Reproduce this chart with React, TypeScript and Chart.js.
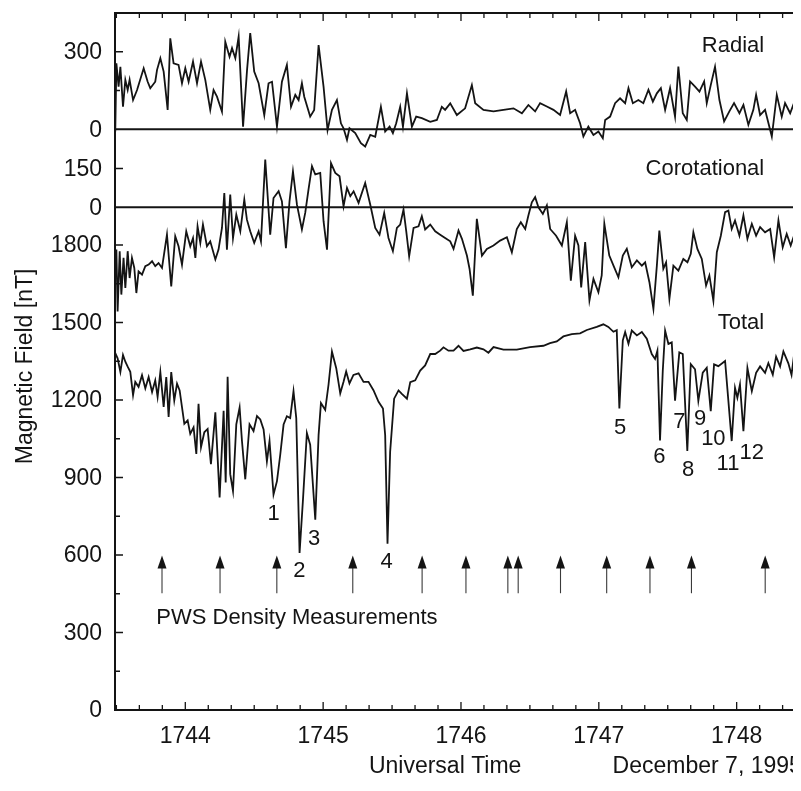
import React, { useEffect, useRef } from 'react';
import { Chart, registerables } from 'chart.js';

Chart.register(...registerables);

const INK = '#141414';
const FONT = '"Liberation Sans", Arial, Helvetica, sans-serif';

// Field components in nT against Universal Time (hhmm with fractional minutes)
const radial: [number, number][] = [
  [1743.492, -9], [1743.5, 255], [1743.516, 165], [1743.529, 242], [1743.548, 87], [1743.565, 191],
  [1743.582, 152], [1743.596, 191], [1743.621, 113], [1743.65, 152], [1743.698, 236], [1743.727, 184],
  [1743.746, 159], [1743.782, 184], [1743.795, 230], [1743.819, 275], [1743.843, 223], [1743.872, 75],
  [1743.891, 352], [1743.915, 255], [1743.951, 249], [1743.976, 178], [1744.0, 236], [1744.024, 184],
  [1744.056, 262], [1744.085, 178], [1744.114, 262], [1744.145, 191], [1744.181, 75], [1744.205, 152],
  [1744.23, 126], [1744.266, 68], [1744.29, 339], [1744.321, 281], [1744.339, 314], [1744.363, 275],
  [1744.387, 358], [1744.419, 10], [1744.448, 230], [1744.471, 372], [1744.5, 223], [1744.532, 178],
  [1744.573, 55], [1744.604, 178], [1744.629, 184], [1744.665, 10], [1744.701, 184], [1744.737, 249],
  [1744.767, 87], [1744.798, 133], [1744.822, 113], [1744.846, 178], [1744.863, 126], [1744.906, 49],
  [1744.935, 75], [1744.967, 326], [1745.003, 165], [1745.032, -3], [1745.064, 75], [1745.1, 113],
  [1745.129, 23], [1745.148, 4], [1745.173, -41], [1745.191, 4], [1745.233, -15], [1745.274, -54],
  [1745.305, -67], [1745.342, -22], [1745.378, -29], [1745.419, 87], [1745.45, -9], [1745.482, 10],
  [1745.506, -15], [1745.53, 23], [1745.559, 87], [1745.579, 10], [1745.608, 139], [1745.644, 10],
  [1745.675, 49], [1745.716, 43], [1745.777, 29], [1745.825, 36], [1745.861, 87], [1745.885, 75],
  [1745.922, 100], [1745.97, 55], [1746.03, 81], [1746.079, 171], [1746.103, 101], [1746.163, 75],
  [1746.236, 69], [1746.308, 75], [1746.381, 81], [1746.442, 62], [1746.489, 94], [1746.538, 69],
  [1746.574, 101], [1746.623, 88], [1746.671, 75], [1746.719, 55], [1746.763, 146], [1746.792, 62],
  [1746.828, 75], [1746.864, 23], [1746.888, -28], [1746.924, 10], [1746.961, -22], [1746.997, -9],
  [1747.029, -35], [1747.046, 36], [1747.082, 49], [1747.118, 101], [1747.154, 120], [1747.191, 101],
  [1747.215, 159], [1747.247, 101], [1747.287, 113], [1747.323, 101], [1747.36, 153], [1747.392, 107],
  [1747.421, 139], [1747.45, 159], [1747.481, 75], [1747.517, 159], [1747.553, 49], [1747.577, 243],
  [1747.609, 62], [1747.638, 36], [1747.662, 185], [1747.698, 165], [1747.73, 146], [1747.764, 185],
  [1747.783, 101], [1747.812, 171], [1747.843, 242], [1747.875, 113], [1747.909, 30], [1747.947, 69],
  [1747.981, 101], [1748.02, 62], [1748.049, 94], [1748.085, 17], [1748.121, 75], [1748.141, 133],
  [1748.17, 55], [1748.206, 75], [1748.255, -28], [1748.291, 133], [1748.327, 49], [1748.351, 101],
  [1748.388, 62], [1748.424, 113], [1748.46, 23], [1748.503, 81],
];

const corotational: [number, number][] = [
  [1743.485, -312], [1743.5, -164], [1743.509, -403], [1743.524, -170], [1743.536, -338], [1743.552, -196],
  [1743.565, -312], [1743.582, -170], [1743.596, -274], [1743.613, -196], [1743.63, -235], [1743.645, -332],
  [1743.661, -248], [1743.686, -261], [1743.71, -228], [1743.734, -222], [1743.759, -209], [1743.782, -228],
  [1743.806, -216], [1743.831, -235], [1743.867, -106], [1743.898, -306], [1743.927, -112], [1743.951, -151],
  [1743.976, -222], [1744.007, -93], [1744.036, -151], [1744.056, -119], [1744.073, -196], [1744.089, -74],
  [1744.109, -138], [1744.128, -67], [1744.157, -151], [1744.181, -132], [1744.218, -202], [1744.241, -164],
  [1744.266, -80], [1744.283, 55], [1744.302, -164], [1744.326, 49], [1744.346, -119], [1744.37, -28],
  [1744.399, -93], [1744.428, 30], [1744.447, -48], [1744.471, -93], [1744.5, -138], [1744.532, -93],
  [1744.549, -132], [1744.58, 185], [1744.616, -106], [1744.64, 36], [1744.677, 62], [1744.701, 23],
  [1744.73, -158], [1744.756, 23], [1744.781, 139], [1744.81, 10], [1744.846, -86], [1744.87, -22],
  [1744.894, 69], [1744.919, 159], [1744.943, 127], [1744.979, 133], [1745.003, -54], [1745.028, -164],
  [1745.057, 171], [1745.088, 133], [1745.119, 120], [1745.148, 4], [1745.173, 75], [1745.197, 43],
  [1745.221, 62], [1745.257, 17], [1745.305, 94], [1745.342, 10], [1745.378, -80], [1745.409, -106],
  [1745.443, -22], [1745.474, -119], [1745.506, -170], [1745.535, -80], [1745.559, -67], [1745.583, -9],
  [1745.603, -93], [1745.624, -190], [1745.656, -80], [1745.692, -74], [1745.716, -35], [1745.74, -86],
  [1745.777, -67], [1745.813, -93], [1745.849, -106], [1745.885, -119], [1745.922, -132], [1745.946, -161],
  [1745.982, -90], [1746.007, -122], [1746.043, -187], [1746.062, -238], [1746.086, -342], [1746.115, -45],
  [1746.152, -187], [1746.188, -161], [1746.236, -148], [1746.284, -129], [1746.333, -116], [1746.369, -174],
  [1746.405, -84], [1746.434, -58], [1746.466, -84], [1746.489, -32], [1746.514, 19], [1746.538, 39],
  [1746.562, 0], [1746.594, -26], [1746.623, 7], [1746.647, -84], [1746.69, -110], [1746.732, -148],
  [1746.768, -58], [1746.797, -284], [1746.828, -110], [1746.852, -148], [1746.872, -310], [1746.901, -135],
  [1746.932, -361], [1746.961, -277], [1746.997, -329], [1747.021, -264], [1747.04, -64], [1747.076, -187],
  [1747.111, -232], [1747.142, -271], [1747.174, -187], [1747.203, -161], [1747.239, -232], [1747.276, -206],
  [1747.312, -226], [1747.336, -213], [1747.367, -290], [1747.396, -393], [1747.421, -226], [1747.439, -90],
  [1747.468, -238], [1747.488, -213], [1747.512, -355], [1747.541, -226], [1747.577, -245], [1747.613, -200],
  [1747.643, -213], [1747.667, -180], [1747.686, -97], [1747.715, -161], [1747.747, -200], [1747.778, -303],
  [1747.802, -264], [1747.831, -361], [1747.856, -174], [1747.885, -110], [1747.916, -19], [1747.94, -13],
  [1747.964, -84], [1747.988, -51], [1748.02, -110], [1748.049, -32], [1748.078, -122], [1748.11, -64],
  [1748.141, -110], [1748.17, -77], [1748.206, -97], [1748.243, -84], [1748.272, -194], [1748.303, -51],
  [1748.334, -155], [1748.363, -103], [1748.392, -148], [1748.424, -97], [1748.46, -110], [1748.503, -90],
];

const total: [number, number][] = [
  [1743.492, 1381], [1743.509, 1361], [1743.529, 1309], [1743.548, 1374], [1743.565, 1348], [1743.582, 1329],
  [1743.601, 1309], [1743.621, 1219], [1743.637, 1270], [1743.661, 1251], [1743.686, 1296], [1743.71, 1245],
  [1743.734, 1289], [1743.759, 1231], [1743.782, 1276], [1743.799, 1212], [1743.819, 1308], [1743.843, 1173],
  [1743.862, 1289], [1743.879, 1134], [1743.898, 1308], [1743.92, 1198], [1743.94, 1263], [1743.959, 1237],
  [1743.976, 1172], [1743.993, 1108], [1744.017, 1121], [1744.036, 1069], [1744.06, 1094], [1744.08, 991],
  [1744.096, 1185], [1744.114, 1017], [1744.138, 1075], [1744.162, 1088], [1744.186, 952], [1744.218, 1152],
  [1744.249, 823], [1744.278, 1158], [1744.293, 881], [1744.307, 1290], [1744.326, 913], [1744.346, 848],
  [1744.37, 1106], [1744.394, 1171], [1744.411, 1042], [1744.435, 893], [1744.466, 1106], [1744.495, 1080],
  [1744.52, 1138], [1744.544, 1125], [1744.568, 1086], [1744.592, 963], [1744.611, 1041], [1744.64, 834],
  [1744.665, 886], [1744.689, 989], [1744.713, 1105], [1744.737, 1137], [1744.761, 1130], [1744.785, 1234],
  [1744.805, 1130], [1744.829, 608], [1744.853, 808], [1744.882, 1072], [1744.906, 1027], [1744.943, 737],
  [1744.967, 1065], [1744.984, 1188], [1745.015, 1162], [1745.039, 1259], [1745.064, 1387], [1745.095, 1323],
  [1745.124, 1226], [1745.148, 1271], [1745.167, 1310], [1745.191, 1264], [1745.22, 1297], [1745.257, 1303],
  [1745.293, 1270], [1745.329, 1270], [1745.365, 1238], [1745.402, 1193], [1745.434, 1167], [1745.45, 1064],
  [1745.467, 644], [1745.486, 999], [1745.515, 1205], [1745.547, 1237], [1745.571, 1224], [1745.608, 1205],
  [1745.632, 1269], [1745.668, 1276], [1745.704, 1314], [1745.74, 1334], [1745.777, 1378], [1745.813, 1378],
  [1745.849, 1391], [1745.873, 1404], [1745.909, 1391], [1745.946, 1391], [1745.982, 1410], [1746.018, 1390],
  [1746.067, 1396], [1746.115, 1403], [1746.163, 1396], [1746.199, 1383], [1746.236, 1405], [1746.308, 1395],
  [1746.405, 1395], [1746.501, 1405], [1746.598, 1410], [1746.646, 1420], [1746.695, 1427], [1746.743, 1446],
  [1746.804, 1455], [1746.864, 1458], [1746.913, 1471], [1746.985, 1483], [1747.033, 1493], [1747.069, 1483],
  [1747.106, 1464], [1747.13, 1470], [1747.149, 1167], [1747.174, 1431], [1747.191, 1463], [1747.215, 1418],
  [1747.239, 1469], [1747.276, 1450], [1747.312, 1463], [1747.348, 1437], [1747.384, 1378], [1747.408, 1359],
  [1747.425, 1391], [1747.444, 1043], [1747.464, 1314], [1747.481, 1468], [1747.505, 1417], [1747.529, 1423],
  [1747.553, 1197], [1747.584, 1384], [1747.609, 1378], [1747.642, 1003], [1747.667, 1339], [1747.698, 1319],
  [1747.722, 1197], [1747.754, 1306], [1747.783, 1325], [1747.812, 1157], [1747.836, 1338], [1747.867, 1331],
  [1747.916, 1351], [1747.964, 1041], [1747.988, 1247], [1748.005, 1209], [1748.024, 1260], [1748.049, 1079],
  [1748.078, 1324], [1748.11, 1234], [1748.141, 1305], [1748.17, 1330], [1748.206, 1305], [1748.23, 1343],
  [1748.262, 1298], [1748.286, 1368], [1748.315, 1330], [1748.339, 1388], [1748.375, 1342], [1748.398, 1297],
  [1748.424, 1407], [1748.441, 1439], [1748.46, 1458], [1748.503, 1466],
];

// Times of the PWS density measurements
const pwsTimes = [
  1743.831, 1744.252, 1744.664, 1745.215, 1745.718, 1746.036, 1746.34, 1746.415, 1746.722,
  1747.057, 1747.371, 1747.672, 1748.207,
];

// Numbered field depressions: label, time, level on the total-field scale
const dipLabels = ['1', '2', '3', '4', '5', '6', '7', '8', '9', '10', '11', '12'];
const dipTimes = [1744.64, 1744.827, 1744.935, 1745.461, 1747.154, 1747.439, 1747.584, 1747.647, 1747.734, 1747.831, 1747.937, 1748.11];
const dipLevels = [757, 537, 664, 573, 1093, 980, 1114, 928, 1125, 1048, 951, 996];

// Axis ticks and labels
const timeTicks = [1744, 1745, 1746, 1747, 1748];
const timeTickLabels = ['1744', '1745', '1746', '1747', '1748'];
const totalTicks = [0, 300, 600, 900, 1200, 1500, 1800];
const radialTicks = [0, 300];
const corotTicks = [0, 150];

// Shared nT-per-pixel scale: each panel's range is offset so its zero sits in place
const timeRange = [1743.49, 1748.503];
const totalRange = [0, 2698];
const radialRange = [-2248, 450];
const corotRange = [-1946, 752];

const framePlugin = {
  id: 'fieldFrame',
  afterDatasetsDraw(chart: any) {
    const { ctx, chartArea: a, scales } = chart;
    const sx = scales.x;
    const sT = scales.yTotal;
    const sR = scales.yRadial;
    const sC = scales.yCorot;
    ctx.save();
    ctx.strokeStyle = INK;
    ctx.fillStyle = INK;

    // zero lines of the radial and corotational panels
    ctx.lineWidth = 2;
    for (const y of [sR.getPixelForValue(0), sC.getPixelForValue(0)]) {
      ctx.beginPath();
      ctx.moveTo(a.left, y);
      ctx.lineTo(a.right, y);
      ctx.stroke();
    }
    ctx.strokeRect(a.left, a.top, a.right - a.left, a.bottom - a.top);

    // time ticks every 10 s on top and bottom
    ctx.lineWidth = 1.3;
    for (let k = 0; k <= 30; k++) {
      const t = 1743.5 + k / 6;
      const len = k % 6 === 3 ? 8 : 5;
      const px = sx.getPixelForValue(t);
      ctx.beginPath();
      ctx.moveTo(px, a.bottom);
      ctx.lineTo(px, a.bottom - len);
      ctx.moveTo(px, a.top);
      ctx.lineTo(px, a.top + len);
      ctx.stroke();
    }

    // field ticks on left and right
    const marks: [number, number][] = [];
    for (let v = 150; v <= 1800; v += 150) marks.push([sT.getPixelForValue(v), v % 300 === 0 ? 8 : 5]);
    marks.push([sR.getPixelForValue(150), 5], [sR.getPixelForValue(300), 8]);
    marks.push([sC.getPixelForValue(150), 8]);
    ctx.lineWidth = 1.5;
    for (const [py, len] of marks) {
      ctx.beginPath();
      ctx.moveTo(a.left, py);
      ctx.lineTo(a.left + len, py);
      ctx.moveTo(a.right, py);
      ctx.lineTo(a.right - len, py);
      ctx.stroke();
    }

    // tick labels
    ctx.font = `23px ${FONT}`;
    ctx.textAlign = 'right';
    ctx.textBaseline = 'middle';
    const yLab = (scale: any, vals: number[]) => {
      for (const v of vals) ctx.fillText(String(v), a.left - 13, scale.getPixelForValue(v) + 1);
    };
    yLab(sT, totalTicks);
    yLab(sR, radialTicks);
    yLab(sC, corotTicks);
    ctx.textAlign = 'center';
    timeTicks.forEach((t, i) => ctx.fillText(timeTickLabels[i], sx.getPixelForValue(t), a.bottom + 27));

    // axis titles
    ctx.fillText('Universal Time', sx.getPixelForValue(1745.885), a.bottom + 57);
    ctx.textAlign = 'left';
    ctx.fillText('December 7, 1995', sx.getPixelForValue(1747.1), a.bottom + 57);
    ctx.save();
    ctx.translate(18, sT.getPixelForValue(1330));
    ctx.rotate(-Math.PI / 2);
    ctx.textAlign = 'center';
    ctx.fillText('Magnetic Field [nT]', 0, 0);
    ctx.restore();

    // panel names
    ctx.font = `22px ${FONT}`;
    ctx.textAlign = 'right';
    ctx.fillText('Radial', sx.getPixelForValue(1748.2), sR.getPixelForValue(321));
    ctx.fillText('Corotational', sx.getPixelForValue(1748.2), sC.getPixelForValue(150));
    ctx.fillText('Total', sx.getPixelForValue(1748.2), sT.getPixelForValue(1500));

    // depression numbers
    ctx.textAlign = 'center';
    dipLabels.forEach((s, i) => ctx.fillText(s, sx.getPixelForValue(dipTimes[i]), sT.getPixelForValue(dipLevels[i])));

    // PWS arrows
    ctx.lineWidth = 1.1;
    ctx.strokeStyle = '#3a3a3a';
    for (const t of pwsTimes) {
      const px = sx.getPixelForValue(t);
      const tip = sT.getPixelForValue(598);
      const tail = sT.getPixelForValue(452);
      ctx.beginPath();
      ctx.moveTo(px, tail);
      ctx.lineTo(px, tip + 10);
      ctx.stroke();
      ctx.beginPath();
      ctx.moveTo(px, tip);
      ctx.lineTo(px - 4.5, tip + 13);
      ctx.lineTo(px + 4.5, tip + 13);
      ctx.closePath();
      ctx.fill();
    }
    ctx.textAlign = 'left';
    ctx.fillText('PWS Density Measurements', sx.getPixelForValue(1743.79), sT.getPixelForValue(356));
    ctx.restore();
  },
};

const trace = (label: string, rows: [number, number][], axis: string) => ({
  label,
  data: rows.map(([t, v]) => ({ x: t, y: v })),
  yAxisID: axis,
  borderColor: INK,
  borderWidth: 1.8,
  pointRadius: 0,
  tension: 0,
  fill: false,
});

export default function App() {
  const ref = useRef<HTMLCanvasElement | null>(null);

  useEffect(() => {
    if (!ref.current) return;
    const chart = new Chart(ref.current, {
      type: 'line',
      data: {
        datasets: [
          trace('Radial', radial, 'yRadial'),
          trace('Corotational', corotational, 'yCorot'),
          trace('Total', total, 'yTotal'),
        ],
      },
      options: {
        animation: false,
        responsive: false,
        devicePixelRatio: 1,
        layout: { padding: { left: 107, top: 5, right: 0, bottom: 73 } },
        plugins: { legend: { display: false }, tooltip: { enabled: false } },
        scales: {
          x: { type: 'linear', display: false, min: timeRange[0], max: timeRange[1] },
          yTotal: { type: 'linear', display: false, min: totalRange[0], max: totalRange[1] },
          yRadial: { type: 'linear', display: false, min: radialRange[0], max: radialRange[1] },
          yCorot: { type: 'linear', display: false, min: corotRange[0], max: corotRange[1] },
        },
      },
      plugins: [framePlugin],
    });
    return () => chart.destroy();
  }, []);

  return (
    <div style={{ width: 793, height: 775, overflow: 'hidden', background: '#fff' }}>
      <canvas ref={ref} width={798} height={775} style={{ display: 'block' }} />
    </div>
  );
}
